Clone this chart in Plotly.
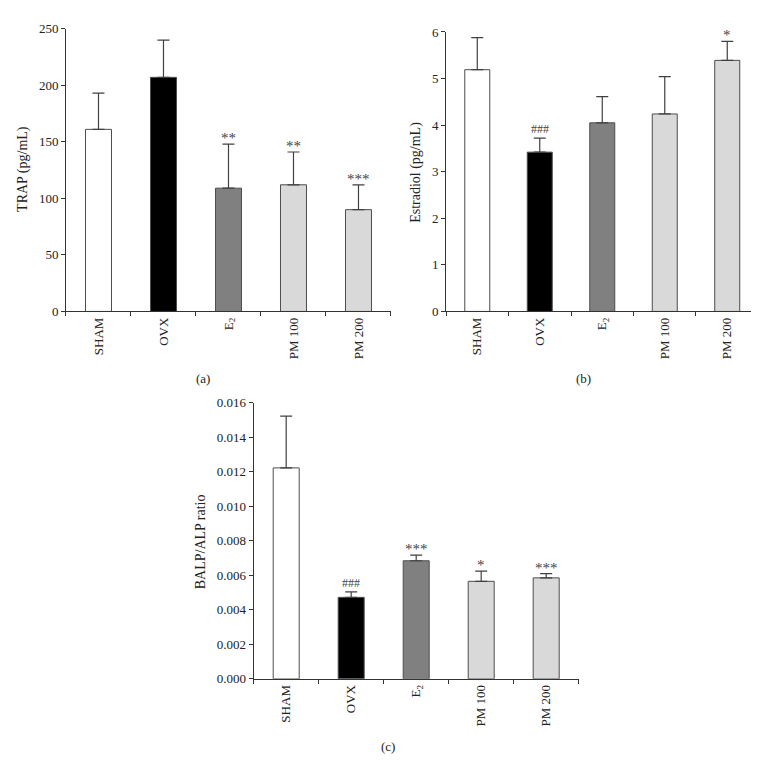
import plotly.graph_objects as go

groups = ["SHAM", "OVX", "E<sub>2</sub>", "PM 100", "PM 200"]
bar_colors = ["white", "black", "#808080", "#d9d9d9", "#d9d9d9"]

trap_mean = [161, 207, 109, 112, 90]
trap_err = [32, 33, 39, 29, 22]
trap_sig = ["", "", "**", "**", "***"]

estradiol_mean = [5.19, 3.42, 4.05, 4.24, 5.39]
estradiol_err = [0.69, 0.30, 0.56, 0.80, 0.41]
estradiol_sig = ["", "###", "", "", "*"]

balp_mean = [0.01222, 0.00472, 0.00684, 0.00565, 0.00585]
balp_err = [0.0030, 0.00032, 0.00033, 0.00059, 0.00025]
balp_sig = ["", "###", "***", "*", "***"]

FONT = "Liberation Serif"
AX = "#333333"

panels = [
    dict(mean=trap_mean, err=trap_err, sig=trap_sig, x="x", y="y"),
    dict(mean=estradiol_mean, err=estradiol_err, sig=estradiol_sig, x="x2", y="y2"),
    dict(mean=balp_mean, err=balp_err, sig=balp_sig, x="x3", y="y3"),
]

fig = go.Figure()
annotations = []
for p in panels:
    fig.add_trace(go.Bar(
        x=groups, y=p["mean"], xaxis=p["x"], yaxis=p["y"],
        width=0.4,
        marker=dict(color=bar_colors, line=dict(color="#4d4d4d", width=1)),
        error_y=dict(type="data", array=p["err"], symmetric=False,
                     arrayminus=[0] * 5, color="#404040", thickness=1.2, width=6),
    ))
    for g, m, e, s in zip(groups, p["mean"], p["err"], p["sig"]):
        if not s:
            continue
        if s.startswith("#"):
            size, shift = 12, 0
        else:
            size, shift = 15, -4
        annotations.append(dict(
            x=g, y=m + e, xref=p["x"], yref=p["y"], text=s, showarrow=False,
            yanchor="bottom", yshift=shift,
            font=dict(family=FONT, size=size, color="#444444")))

# axis titles and panel captions
titles = [("TRAP (pg/mL)", 0.0198, 0.797), ("Estradiol (pg/mL)", 0.5375, 0.793),
          ("BALP/ALP ratio", 0.2539, 0.3053)]
for t, x, y in titles:
    annotations.append(dict(text=t, x=x, y=y, xref="paper", yref="paper",
                            textangle=-90, showarrow=False, xanchor="center",
                            yanchor="middle", font=dict(family=FONT, size=14, color="#222")))
caps = [("(a)", 0.257, 0.520), ("(b)", 0.7576, 0.520), ("(c)", 0.5007, 0.035)]
for t, x, y in caps:
    annotations.append(dict(text=t, x=x, y=y, xref="paper", yref="paper",
                            showarrow=False, xanchor="center", yanchor="middle",
                            font=dict(family=FONT, size=13, color="#222")))

xcommon = dict(showline=True, linecolor=AX, linewidth=1, ticks="outside",
               tickson="boundaries", ticklen=4, tickcolor=AX, tickangle=-90,
               showgrid=False, range=[-0.5, 4.5], fixedrange=True,
               tickfont=dict(family=FONT, size=13, color="#222"))
ycommon = dict(showline=True, linecolor=AX, linewidth=1, ticks="outside",
               ticklen=4, tickcolor=AX, showgrid=False, zeroline=False,
               tickfont=dict(family=FONT, size=13, color="#222"))

fig.update_layout(
    width=759, height=773,
    margin=dict(l=0, r=0, t=0, b=0),
    paper_bgcolor="white", plot_bgcolor="white",
    showlegend=False,
    annotations=annotations,
    xaxis=dict(xcommon, domain=[0.0764, 0.5046], anchor="y"),
    yaxis=dict(ycommon, domain=[0.6089, 0.9819], range=[0, 250], dtick=50, anchor="x"),
    xaxis2=dict(xcommon, domain=[0.5771, 0.9888], anchor="y2"),
    yaxis2=dict(ycommon, domain=[0.6089, 0.9776], range=[0, 6], dtick=1, anchor="x2"),
    xaxis3=dict(xcommon, domain=[0.3237, 0.7519], anchor="y3"),
    yaxis3=dict(ycommon, domain=[0.1242, 0.4886], range=[0, 0.016], dtick=0.002,
                tickformat=".3f", anchor="x3"),
)

fig.write_html("out.html")
